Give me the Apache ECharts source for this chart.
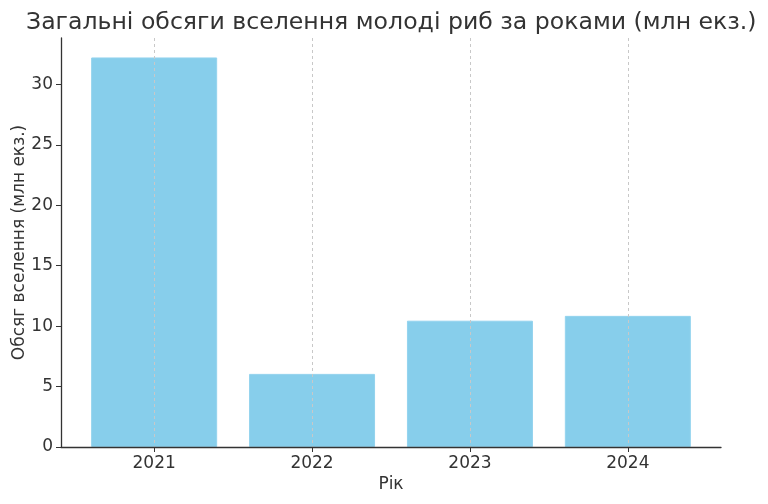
<!DOCTYPE html>
<html>
<head>
<meta charset="utf-8">
<script src="https://cdn.jsdelivr.net/npm/echarts@6/dist/echarts.min.js"></script>
<style>html,body{margin:0;padding:0;background:#fff}#c{width:768px;height:504px}</style>
</head>
<body>
<div id="c"></div>
<script>
const categories = ['2021', '2022', '2023', '2024'];
const values = [32.23, 6.05, 10.45, 10.85];
const yTicks = [0, 5, 10, 15, 20, 25, 30];
const titleText = 'Загальні обсяги вселення молоді риб за роками (млн екз.)';
const xName = 'Рік';
const yName = 'Обсяг вселення (млн екз.)';

const chart = echarts.init(document.getElementById('c'), null, {renderer: 'canvas'});
const idx = categories.map((c, i) => i);
const font = 'DejaVu Sans';
const txt = '#333333';
chart.setOption({
  animation: false,
  textStyle: {fontFamily: font},
  title: {
    text: titleText, left: 21, top: 6,
    textStyle: {fontFamily: font, fontSize: 23.6, fontWeight: 'normal', color: txt}
  },
  grid: {left: 61, right: 47, top: 38, bottom: 57, containLabel: false, outerBoundsMode: 'none'},
  xAxis: {
    type: 'value', min: -0.59, max: 3.59, z: 5,
    name: xName, nameLocation: 'middle', nameGap: 29, nameMoveOverlap: false,
    nameTextStyle: {fontSize: 17, color: txt, fontFamily: font},
    axisLine: {onZero: false, lineStyle: {color: txt, width: 1.3}},
    axisTick: {show: true, customValues: idx, length: 5, inside: false, lineStyle: {color: txt}},
    axisLabel: {customValues: idx, fontSize: 17, color: txt, margin: 8, formatter: v => categories[Math.round(v)]},
    splitLine: {show: true, customValues: idx, lineStyle: {color: '#c8c8c8', type: [3, 3], width: 1}}
  },
  yAxis: {
    type: 'value', min: 0, max: 33.84,
    name: yName, nameLocation: 'middle', nameGap: 33, nameRotate: 90, nameMoveOverlap: false,
    nameTextStyle: {fontSize: 17, color: txt, fontFamily: font},
    axisLine: {show: true, onZero: false, lineStyle: {color: txt, width: 1.3}},
    axisTick: {show: true, customValues: yTicks, length: 5, lineStyle: {color: txt}},
    axisLabel: {customValues: yTicks, fontSize: 17, color: txt, margin: 8},
    splitLine: {show: false}
  },
  series: [{
    type: 'bar',
    data: values.map((v, i) => [i, v]),
    barWidth: 126,
    itemStyle: {color: '#87CEEB', borderColor: '#93d3ee', borderWidth: 1}
  }]
});
</script>
</body>
</html>
